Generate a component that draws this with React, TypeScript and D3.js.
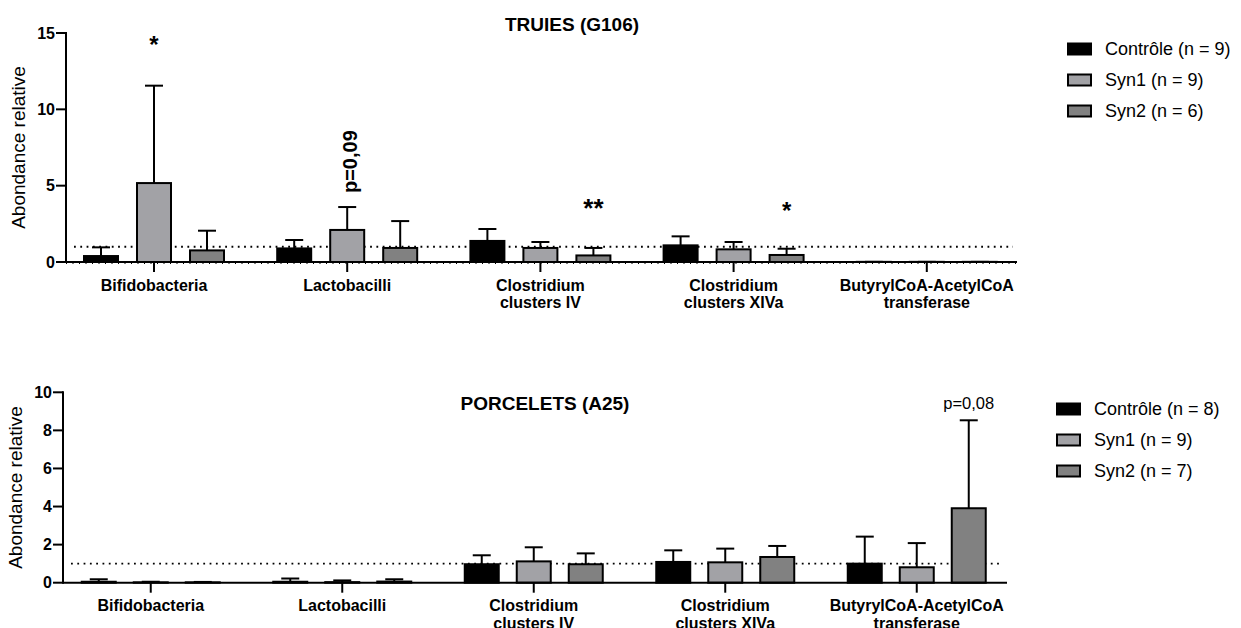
import React from 'react';
import * as d3 from 'd3';

const categories = [
  ['Bifidobacteria'],
  ['Lactobacilli'],
  ['Clostridium', 'clusters IV'],
  ['Clostridium', 'clusters XIVa'],
  ['ButyrylCoA-AcetylCoA', 'transferase'],
];
const groups = ['Contrôle', 'Syn1', 'Syn2'];
const groupFill = ['#000000', '#a2a2a6', '#818181'];

// TRUIES (G106)
const truiesMean = [
  [0.39, 0.89, 1.38, 1.09, 0.01],
  [5.17, 2.1, 0.92, 0.83, 0.01],
  [0.76, 0.92, 0.43, 0.46, 0.01],
];
const truiesErr = [
  [0.96, 1.44, 2.16, 1.68, 0.01],
  [11.55, 3.6, 1.31, 1.31, 0.01],
  [2.05, 2.68, 0.92, 0.87, 0.01],
];
const truiesN = [9, 9, 6];
const truiesTicks = [0, 5, 10, 15];

// PORCELETS (A25)
const porcMean = [
  [0.05, 0.05, 0.97, 1.09, 1.0],
  [0.02, 0.03, 1.12, 1.07, 0.81],
  [0.02, 0.06, 0.97, 1.35, 3.91],
];
const porcErr = [
  [0.18, 0.22, 1.44, 1.7, 2.42],
  [0.05, 0.12, 1.86, 1.79, 2.08],
  [0.04, 0.18, 1.54, 1.93, 8.53],
];
const porcN = [8, 9, 7];
const porcTicks = [0, 2, 4, 6, 8, 10];

const FONT = '"Liberation Sans", Arial, sans-serif';

type Note = { cat: number; grp: number; text: string; dy: number; rotate?: boolean; bold: boolean; size: number };

type PanelProps = {
  title: string;
  titleX: number;
  titleY: number;
  mean: number[][];
  err: number[][];
  n: number[];
  ticks: number[];
  yMax: number;
  yTop: number;
  yBase: number;
  axisX: number;
  axisEnd: number;
  bandRange: [number, number];
  offset: number;
  legendX: number;
  legendY: number;
  notes: Note[];
  minorTicks?: boolean;
};

const Panel = (p: PanelProps) => {
  const y = d3.scaleLinear().domain([0, p.yMax]).range([p.yBase, p.yTop]);
  const x = d3.scaleBand<number>().domain(d3.range(categories.length)).range(p.bandRange);
  const inner = d3.scalePoint<number>().domain(d3.range(groups.length)).range([-p.offset, p.offset]);
  const bw = 34;
  const cx = (c: number) => (x(c) as number) + x.bandwidth() / 2;

  return (
    <g fontFamily={FONT}>
      <text x={p.titleX} y={p.titleY} textAnchor="middle" fontWeight="bold" fontSize={19}>{p.title}</text>

      {/* reference line at 1 */}
      <line x1={p.axisX + 8} x2={p.axisEnd - 4} y1={y(1)} y2={y(1)} stroke="#000" strokeWidth={1.8} strokeDasharray="1.8,4.5" />

      {/* bars + error bars */}
      {groups.map((g, gi) =>
        categories.map((_, ci) => {
          const c = cx(ci) + (inner(gi) as number);
          const top = y(p.mean[gi][ci]);
          const et = y(p.err[gi][ci]);
          return (
            <g key={g + ci}>
              <line x1={c} x2={c} y1={top} y2={et} stroke="#000" strokeWidth={2} />
              <line x1={c - 9} x2={c + 9} y1={et} y2={et} stroke="#000" strokeWidth={2} />
              <rect x={c - bw / 2} y={top} width={bw} height={Math.max(0, p.yBase - top)} fill={groupFill[gi]} stroke="#000" strokeWidth={2} />
            </g>
          );
        })
      )}

      {/* y axis */}
      <line x1={p.axisX} x2={p.axisX} y1={p.yTop - 1} y2={p.yBase + 1} stroke="#000" strokeWidth={2} />
      {p.ticks.map(t => (
        <g key={t}>
          <line x1={p.axisX - 10} x2={p.axisX} y1={y(t)} y2={y(t)} stroke="#000" strokeWidth={2} />
          <text x={p.axisX - 11} y={y(t)} dy="0.36em" textAnchor="end" fontWeight="bold" fontSize={16}>{t}</text>
        </g>
      ))}
      <text transform={`translate(${p.axisX - 41},${(p.yTop + p.yBase) / 2}) rotate(-90)`} textAnchor="middle" fontSize={19}>Abondance relative</text>

      {/* x axis */}
      <line x1={p.axisX} x2={p.axisEnd} y1={p.yBase} y2={p.yBase} stroke="#000" strokeWidth={2} />
      {p.minorTicks && (
        <line x1={p.axisX} x2={p.axisEnd} y1={p.yBase + 1.5} y2={p.yBase + 1.5} stroke="#000" strokeWidth={1} strokeDasharray="1,5.5" />
      )}
      {categories.map((lines, ci) => (
        <g key={ci}>
          <line x1={cx(ci)} x2={cx(ci)} y1={p.yBase} y2={p.yBase + 10} stroke="#000" strokeWidth={2} />
          {lines.map((l, li) => (
            <text key={li} x={cx(ci)} y={p.yBase + 28.5 + li * 17.5} textAnchor="middle" fontWeight="bold" fontSize={16}>{l}</text>
          ))}
        </g>
      ))}

      {/* annotations */}
      {p.notes.map((nt, i) => {
        const ax = cx(nt.cat) + (inner(nt.grp) as number);
        const ay = y(p.err[nt.grp][nt.cat]) + nt.dy;
        return nt.rotate ? (
          <text key={i} transform={`translate(${ax + 10},${ay}) rotate(-90)`} textAnchor="start" fontWeight="bold" fontSize={nt.size}>{nt.text}</text>
        ) : (
          <text key={i} x={ax} y={ay} textAnchor="middle" fontWeight={nt.bold ? 'bold' : 'normal'} fontSize={nt.size}>{nt.text}</text>
        );
      })}

      {/* legend */}
      {groups.map((g, gi) => (
        <g key={g} transform={`translate(${p.legendX},${p.legendY + gi * 31})`}>
          <rect x={1} y={-5.5} width={23} height={11} fill={groupFill[gi]} stroke="#000" strokeWidth={2} />
          <text x={38} y={0} dy="0.36em" fontSize={18}>{`${g} (n = ${p.n[gi]})`}</text>
        </g>
      ))}
    </g>
  );
};

const App = () => (
  <div style={{ position: 'absolute', left: 0, top: 0 }}>
    <svg width={1241} height={628} viewBox="0 0 1241 628" style={{ display: 'block', background: '#fff' }}>
      <Panel
        title="TRUIES (G106)"
        titleX={572}
        titleY={31}
        mean={truiesMean}
        err={truiesErr}
        n={truiesN}
        ticks={truiesTicks}
        yMax={15}
        yTop={33}
        yBase={262}
        axisX={66}
        axisEnd={1017}
        bandRange={[57.4, 1023.4]}
        offset={53}
        legendX={1067}
        legendY={49}
        minorTicks
        notes={[
          { cat: 0, grp: 1, text: '*', dy: -33, bold: true, size: 24 },
          { cat: 1, grp: 1, text: 'p=0,09', dy: -14, rotate: true, bold: true, size: 20 },
          { cat: 2, grp: 2, text: '**', dy: -31, bold: true, size: 26 },
          { cat: 3, grp: 2, text: '*', dy: -30, bold: true, size: 24 },
        ]}
      />
      <Panel
        title="PORCELETS (A25)"
        titleX={545}
        titleY={410}
        mean={porcMean}
        err={porcErr}
        n={porcN}
        ticks={porcTicks}
        yMax={10}
        yTop={392.3}
        yBase={582.7}
        axisX={63}
        axisEnd={1007}
        bandRange={[55, 1012.5]}
        offset={52}
        legendX={1056}
        legendY={409}
        notes={[{ cat: 4, grp: 2, text: 'p=0,08', dy: -11, bold: false, size: 16.5 }]}
      />
    </svg>
  </div>
);

export default App;
